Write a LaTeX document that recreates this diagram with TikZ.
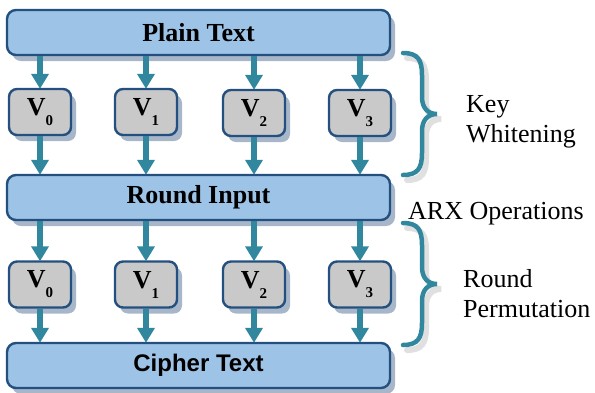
\documentclass[tikz,border=0pt]{standalone}
\usepackage{fontspec}
\setmainfont{Liberation Serif}
\newfontfamily\arialfont{Liberation Sans}
\usetikzlibrary{shadows,arrows.meta}
\definecolor{barfill}{HTML}{9DC3E6}
\definecolor{bord}{HTML}{24507F}
\definecolor{vfill}{HTML}{C9C9C9}
\definecolor{teal}{HTML}{31879E}
\definecolor{shad}{HTML}{A8B6C9}
\tikzset{
  bar/.style={draw=bord, line width=2.4pt, fill=barfill, rounded corners=9pt,
    minimum width=383pt, minimum height=45pt, inner sep=0pt,
    drop shadow={shadow xshift=5pt, shadow yshift=-6pt, fill=shad, opacity=1},
    font=\fontsize{26}{30}\selectfont\bfseries},
  vbox/.style={draw=bord, line width=2.4pt, fill=vfill, rounded corners=8pt,
    minimum width=62pt, minimum height=46pt, inner sep=0pt,
    drop shadow={shadow xshift=5pt, shadow yshift=-6pt, fill=shad, opacity=1},
    font=\fontsize{26}{30}\selectfont\bfseries},
  arr/.style={draw=teal, line width=5.5pt, -{Triangle[width=17pt,length=15pt]}, shorten >=-1pt},
  brace/.style={draw=teal, line width=4.5pt, line cap=round},
  braceshadow/.style={draw=black!35, line width=6pt, line cap=round, opacity=0.35},
  lbl/.style={font=\fontsize{26}{30}\selectfont, inner sep=0pt},
}
\newcommand{\vlab}[1]{V\raisebox{-10pt}{\fontsize{15}{15}\selectfont\bfseries #1}}
\begin{document}
\begin{tikzpicture}[x=1pt,y=-1pt]
\useasboundingbox (0,0) rectangle (595,392);
% bars
\node[bar] (pt) at (198.5,32.5) {Plain Text};
\node[bar] (ri) at (198.5,197.5) {Round Input};
\node[bar, font=\fontsize{24}{28}\selectfont\bfseries\arialfont] (ct) at (198.5,365.5) {Cipher Text};
% row 1
\node[vbox] (a0) at (40,112) {\vlab{0}};
\node[vbox] (a1) at (146,112) {\vlab{1}};
\node[vbox] (a2) at (254,113) {\vlab{2}};
\node[vbox] (a3) at (360,113) {\vlab{3}};
% row 2
\node[vbox] (b0) at (40,284.5) {\vlab{0}};
\node[vbox] (b1) at (146,284.5) {\vlab{1}};
\node[vbox] (b2) at (254,284.5) {\vlab{2}};
\node[vbox] (b3) at (360,284.5) {\vlab{3}};
% arrows
\foreach \v in {0,1,2,3}{
  \draw[arr] (a\v |- pt.south) -- (a\v.north);
  \draw[arr] (a\v.south) -- (a\v |- ri.north);
  \draw[arr] (b\v |- ri.south) -- (b\v.north);
  \draw[arr] (b\v.south) -- (b\v |- ct.north);
}
% braces
\foreach \t in {0,170}{
  \begin{scope}[yshift=-\t pt]
  \draw[braceshadow, xshift=4pt, yshift=-5pt] (403,53) .. controls (418,53) and (422,60) .. (422,75) -- (422,97) .. controls (422,108) and (428,114) .. (437,114) .. controls (428,114) and (422,120) .. (422,131) -- (422,153) .. controls (422,168) and (418,175) .. (403,175);
  \draw[brace] (403,53) .. controls (418,53) and (422,60) .. (422,75) -- (422,97) .. controls (422,108) and (428,114) .. (437,114) .. controls (428,114) and (422,120) .. (422,131) -- (422,153) .. controls (422,168) and (418,175) .. (403,175);
  \end{scope}
}
% labels
\node[lbl, anchor=base west] (k1) at (466,112) {Key};
\node[lbl, anchor=base west] (k2) at (466,142) {Whitening};
\node[lbl, anchor=base west] (arx) at (408,219) {ARX Operations};
\node[lbl, anchor=base west] (r1) at (463,287) {Round};
\node[lbl, anchor=base west] (r2) at (463,317) {Permutation};
\end{tikzpicture}
\end{document}
